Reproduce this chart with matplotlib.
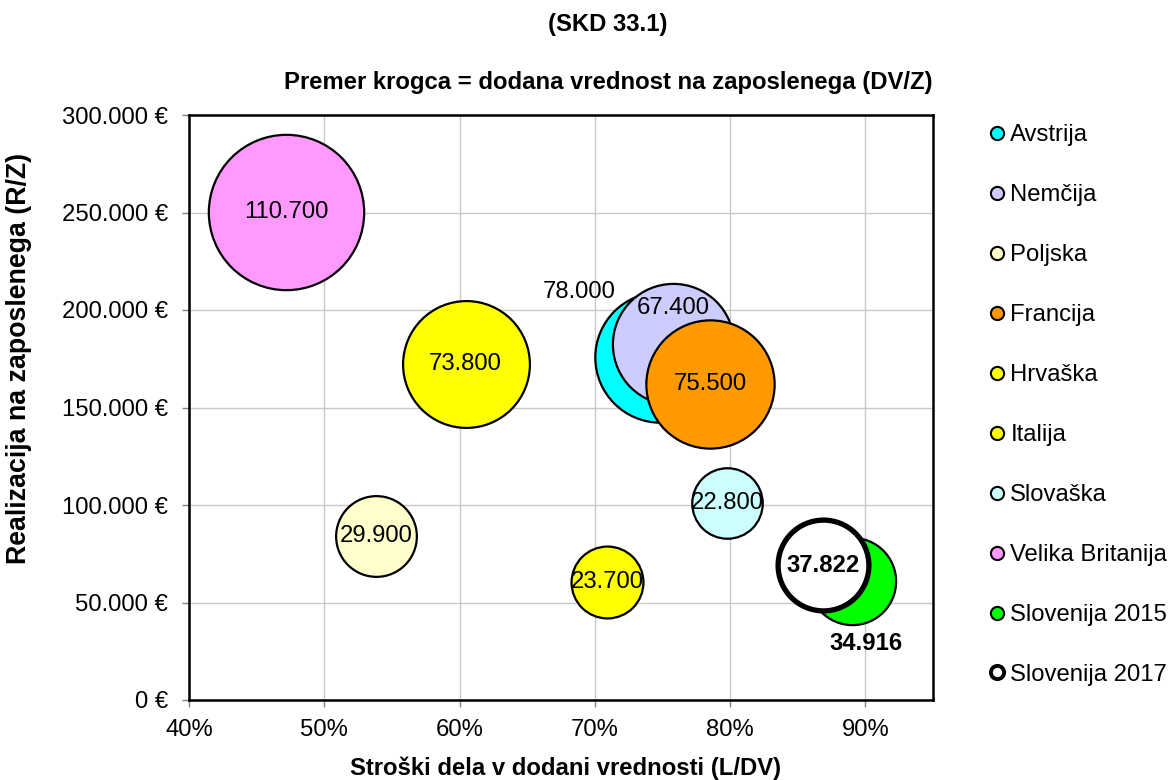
import matplotlib.pyplot as plt
from matplotlib.lines import Line2D
from matplotlib.ticker import FuncFormatter, MultipleLocator

plt.rcParams['font.family'] = ['Liberation Sans', 'DejaVu Sans']

# data
names = ['Avstrija', 'Nemčija', 'Poljska', 'Francija', 'Hrvaška', 'Italija',
         'Slovaška', 'Velika Britanija', 'Slovenija 2015', 'Slovenija 2017']
ldv = [74.8, 75.8, 53.85, 78.55, 60.45, 70.9, 79.8, 47.2, 89.0, 86.9]  # %
rz = [176000, 182500, 84000, 162200, 172100, 60300, 101000, 250500, 60900, 69100]
dvz = [78000, 67400, 29900, 75500, 73800, 23700, 22800, 110700, 34916, 37822]
colors = ['#00FFFF', '#CCCCFF', '#FFFFCC', '#FF9900', '#FFFF00', '#FFFF00',
          '#CCFFFF', '#FF99FF', '#00FF00', '#FFFFFF']

# label placement (offset points) for the ones not centred in the bubble
offsets = {'Avstrija': (-58, 47), 'Nemčija': (0, 26), 'Slovenija 2015': (10, -45)}
bold = ['Slovenija 2015', 'Slovenija 2017']

FS = 17.2

fig = plt.figure(figsize=(11.69, 7.80), dpi=100)
ax = fig.add_axes([189/1169, 1-700/780, (933-189)/1169, (700-115)/780])

for i, n in enumerate(names):
    lw = 3.8 if n == 'Slovenija 2017' else 1.6
    ax.scatter(ldv[i], rz[i], s=dvz[i]*0.113, color=colors[i], edgecolor='black',
               linewidth=lw, zorder=3+i)

for i, n in enumerate(names):
    txt = f'{dvz[i]:,.0f}'.replace(',', '.')
    off = offsets.get(n, (0, 0))
    ax.annotate(txt, (ldv[i], rz[i]), xytext=off, textcoords='offset points',
                ha='center', va='center', fontsize=FS,
                fontweight='bold' if n in bold else 'normal', zorder=20)

ax.set_xlim(40, 95)
ax.set_ylim(0, 300000)
ax.xaxis.set_major_locator(MultipleLocator(10))
ax.yaxis.set_major_locator(MultipleLocator(50000))
ax.xaxis.set_major_formatter(FuncFormatter(lambda v, p: f'{v:.0f}%'))
ax.yaxis.set_major_formatter(FuncFormatter(lambda v, p: f'{v:,.0f} €'.replace(',', '.')))
ax.grid(True, color='#c8c8c8', linewidth=1)
ax.set_axisbelow(True)
for sp in ax.spines.values():
    sp.set_linewidth(1.8)
    sp.set_color('black')
ax.tick_params(axis='both', labelsize=FS, color='#808080', length=5, width=1)
ax.tick_params(axis='y', pad=10)
ax.tick_params(axis='x', pad=9)

fig.text(608/1169, 1-25/780, '(SKD 33.1)', ha='center', va='center',
         fontsize=FS, fontweight='bold')
fig.text(608/1169, 1-82/780, 'Premer krogca = dodana vrednost na zaposlenega (DV/Z)',
         ha='center', va='center', fontsize=FS, fontweight='bold')
fig.text(566/1169, 1-768/780, 'Stroški dela v dodani vrednosti (L/DV)',
         ha='center', va='center', fontsize=FS, fontweight='bold')
fig.text(19/1169, 1-358/780, 'Realizacija na zaposlenega (R/Z)', rotation=90,
         ha='center', va='center', fontsize=19.3, fontweight='bold')

handles = []
for i, n in enumerate(names):
    lw = 2.8 if n == 'Slovenija 2017' else 1.5
    handles.append(Line2D([], [], linestyle='none', marker='o', markersize=9.5,
                          markerfacecolor=colors[i], markeredgecolor='black',
                          markeredgewidth=lw, label=n))
fig.legend(handles=handles, loc='upper left', bbox_to_anchor=(990/1169, 1-124/780),
           frameon=False, fontsize=FS, handlelength=0.6, handletextpad=0.25,
           labelspacing=1.59, borderpad=0, borderaxespad=0)

fig.savefig('out.png', dpi=100)
